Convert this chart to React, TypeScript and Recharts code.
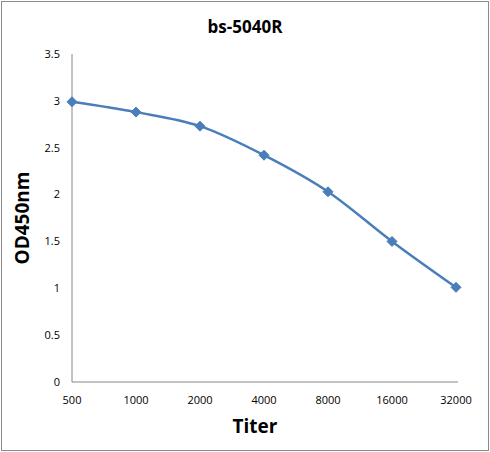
import React from 'react'
import { LineChart, Line, XAxis, YAxis } from 'recharts'

// titer dilutions and OD readings
const titers = ['500', '1000', '2000', '4000', '8000', '16000', '32000']
const od450 = [2.99, 2.88, 2.73, 2.42, 2.03, 1.5, 1.01]
const yTicks = [0, 0.5, 1, 1.5, 2, 2.5, 3, 3.5]

const data = titers.map((t, i) => ({ titer: t, od: od450[i] }))

const FONT = '"Open Sans", "Liberation Sans", sans-serif'
const BLUE = '#4a7ebb'

const Diamond = (props: any) => {
  const { cx, cy } = props
  if (cx == null || cy == null) return null
  const r = 5
  return (
    <polygon
      points={`${cx},${cy - r} ${cx + r},${cy} ${cx},${cy + r} ${cx - r},${cy}`}
      fill={BLUE}
      stroke={BLUE}
    />
  )
}

export default function App() {
  return (
    <div
      style={{
        position: 'absolute',
        left: 0,
        top: 0,
        width: 490,
        height: 452,
        background: '#fff',
        fontFamily: FONT,
      }}
    >
      <div
        style={{
          position: 'absolute',
          left: 1,
          top: 1,
          width: 486,
          height: 448,
          border: '1px solid #8c8c8c',
        }}
      />
      <div
        style={{
          position: 'absolute',
          left: 0,
          width: 490,
          top: 15,
          textAlign: 'center',
          fontSize: 17,
          fontWeight: 'bold',
          color: '#000',
        }}
      >
        bs-5040R
      </div>
      <div
        style={{
          position: 'absolute',
          left: 0,
          width: 490,
          top: 413,
          paddingLeft: 20,
          boxSizing: 'border-box',
          textAlign: 'center',
          fontSize: 19,
          fontWeight: 'bold',
          color: '#000',
        }}
      >
        Titer
      </div>
      <div
        style={{
          position: 'absolute',
          left: 22,
          top: 218,
          transform: 'translate(-50%, -50%) rotate(-90deg)',
          fontSize: 19,
          fontWeight: 'bold',
          color: '#000',
          whiteSpace: 'nowrap',
        }}
      >
        OD450nm
      </div>
      <div style={{ position: 'absolute', left: 0, top: 0 }}>
        <LineChart
          width={490}
          height={452}
          data={data}
          margin={{ top: 54, right: 32, left: 0, bottom: 0 }}
        >
          <XAxis
            dataKey="titer"
            height={70}
            padding={{ left: 0, right: 2 }}
            stroke="#868686"
            tickLine={false}
            tickSize={0}
            tickMargin={14}
            tick={{ fill: '#000', fontSize: 11, fontFamily: FONT }}
            interval={0}
          />
          <YAxis
            width={72}
            domain={[0, 3.5]}
            ticks={yTicks}
            stroke="#868686"
            tickLine={false}
            tickSize={0}
            tickMargin={12}
            tick={{ fill: '#000', fontSize: 11, fontFamily: FONT }}
          />
          <Line
            type="monotone"
            dataKey="od"
            stroke={BLUE}
            strokeWidth={2.5}
            dot={<Diamond />}
            activeDot={false}
            isAnimationActive={false}
          />
        </LineChart>
      </div>
    </div>
  )
}
